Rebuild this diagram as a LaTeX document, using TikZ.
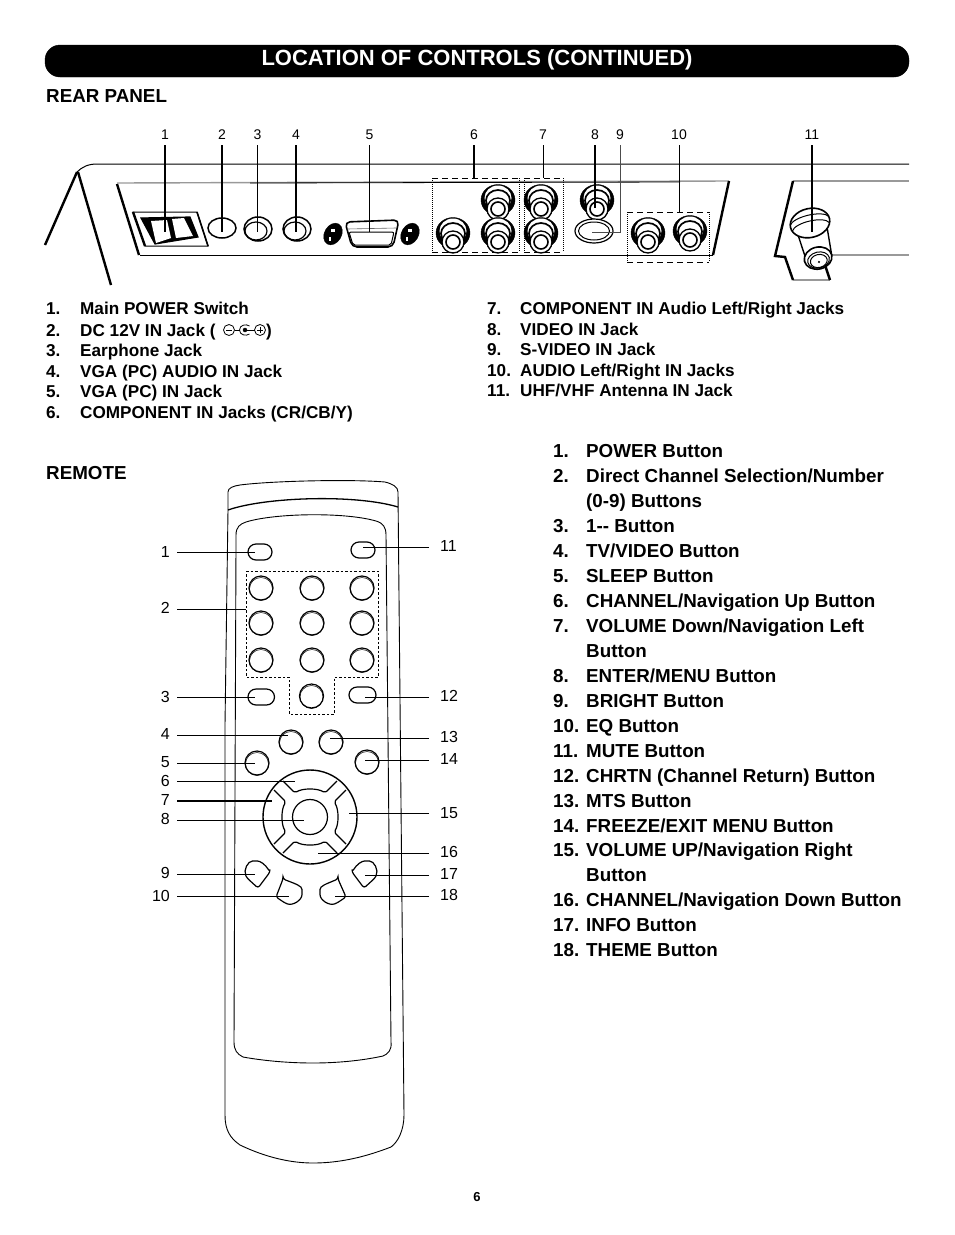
\documentclass[tikz,border=0pt]{standalone}
\usepackage{fontspec}
\setmainfont{Liberation Sans}
\usetikzlibrary{calc}
\def\rcajack(#1,#2){\begin{scope}[shift={(#1,#2)}]
	\draw[fill=black] (0,-2) ellipse (17 and 15.5);
	\draw[fill=white,draw=none] (0,-4) ellipse (13.5 and 12.5);
	\draw[line width=1.7pt] (0,-1.5) ellipse (12 and 10.5);
	\draw[fill=white,line width=1.3pt] (0,7) circle (11);
	\draw[line width=1.6pt] (0,7) circle (7);
\end{scope}}
\def\roundbtn(#1,#2){\draw[btnline] (#1,#2) circle (12);
	\draw[line width=0.5pt] (#1,#2+1) circle (11.5);}
\tikzset{
	leader/.style={line width=0.9pt},
	rearleader/.style={line width=1.3pt},
	btnline/.style={line width=1.2pt},
	bodyline/.style={line width=0.9pt},
	thickedge/.style={line width=2.4pt},
	grayedge/.style={line width=1.4pt,black!40},
	dashedge/.style={line width=0.8pt,dash pattern=on 6pt off 4pt},
	dotedge/.style={line width=1pt,dash pattern=on 1pt off 1pt},
	rearnum/.style={font=\fontsize{14}{14}\selectfont,inner sep=0pt,minimum height=20pt},
	leftnum/.style={font=\fontsize{16}{16}\selectfont,anchor=east,inner ysep=0pt,inner xsep=7pt},
	rightnum/.style={font=\fontsize{16}{16}\selectfont,anchor=west,inner ysep=0pt,inner xsep=11pt},
	reartext/.style={font=\bfseries\fontsize{17.15}{17.15}\selectfont,anchor=base west,inner sep=0pt},
	remotetext/.style={font=\bfseries\fontsize{18.8}{18.8}\selectfont,anchor=base west,inner sep=0pt},
	headtext/.style={font=\bfseries\fontsize{22}{22}\selectfont,text=white,inner sep=0pt},
}
\begin{document}
\begin{tikzpicture}[x=1pt,y=-1pt]
	%%%%% START %%%%%
	\useasboundingbox (0,0) rectangle (954,1235);
	
	\draw[fill=black,rounded corners=15pt] (45,45) rectangle (909,77);
	\node[headtext] (title) at (477,60) {LOCATION OF CONTROLS (CONTINUED)};
	\node[remotetext] (rearhead) at (46,102) {REAR PANEL};
	\node[remotetext] (remotehead) at (46,479) {REMOTE};
	\node[font=\bfseries\fontsize{13}{13}\selectfont] (pagenum) at (477,1197) {6};
	
	% cabinet outline
	\draw[line width=1pt] (909,164) -- (97,164) .. controls (88,164) and (82,167) .. (77,172);
	\draw[thickedge] (77,172) -- (45,245);
	\draw[thickedge] (78,172) -- (111,285);
	
	% jack panel
	\draw[line width=1pt] (140,255) -- (713,255);
	\draw[grayedge] (117,183) -- (729,181);
	\draw[line width=0.8pt] (250,183) -- (680,182);
	\draw[thickedge] (117,184) -- (139,255);
	\draw[thickedge] (729,181) -- (713,255);
	
	% switch
	\draw[line width=1pt] (133,212) -- (197,212) -- (208,246) -- (145,246) -- cycle;
	\draw[thickedge] (133,212) -- (145,246);
	\draw[line width=1.6pt] (197,212) -- (208,246);
	\draw[line width=1.2pt,fill=black] (141,218) -- (190,217) -- (198,237) -- (155,244) -- cycle;
	\draw[fill=white,draw=none] (151,221) -- (167,220) -- (171,238) -- (156,243) -- cycle;
	\draw[fill=white,draw=none] (172,219) -- (184,218) -- (193,236) -- (176,238) -- cycle;
	
	% round jacks
	\draw[line width=1.5pt] (222,228) ellipse (14 and 10);
	\draw[line width=1.5pt,fill=white] (258,229) ellipse (14 and 12);
	\draw[line width=1.2pt] (256,231) ellipse (11 and 9);
	\draw[line width=1.5pt,fill=white] (297,229) ellipse (14 and 12);
	\draw[line width=1.2pt] (295,231) ellipse (11 and 9);
	
	% VGA socket
	\draw[fill=black,rotate around={-30:(333,234)}] (333,234) ellipse (8.5 and 11.5);
	\draw[fill=white,draw=none] (331,229) rectangle (335,232);
	\draw[fill=white,draw=none] (329,237) rectangle (331,241);
	\draw[fill=black,rotate around={-30:(410,234)}] (410,234) ellipse (8.5 and 11.5);
	\draw[fill=white,draw=none] (408,229) rectangle (412,232);
	\draw[fill=white,draw=none] (406,237) rectangle (408,241);
	\draw[line width=1.6pt,rounded corners=5pt] (345,222) -- (399,220) -- (393,247) -- (352,247) -- cycle;
	\draw[line width=0.6pt,black!60] (347,229) -- (396,228);
	\draw[line width=1pt,rounded corners=2pt] (349,232) -- (394,232) -- (391,245) -- (353,245) -- cycle;
	
	% RCA jacks
	\rcajack(453,235)
	\rcajack(498,202)
	\rcajack(498,235)
	\rcajack(541,202)
	\rcajack(541,235)
	\rcajack(597,202)
	\rcajack(648,235)
	\rcajack(690,233)
	\draw[line width=1.2pt,fill=white] (594,231) ellipse (19 and 12);
	\draw[line width=1pt] (594,231) ellipse (15.5 and 9);
	
	% antenna section
	\draw[grayedge] (793,181) -- (909,181);
	\draw[grayedge] (830,255) -- (909,255);
	\draw[grayedge] (793,280) -- (830,280);
	\draw[thickedge] (793,181) -- (775,256) -- (785,257) -- (793,280);
	\draw[thickedge] (825,265) -- (830,280);
	\begin{scope}[rotate around={13:(810,223)}]
		\draw[line width=1.4pt,fill=white] (795,225) -- (798,258) -- (824,258) -- (826,225) -- cycle;
		\draw[line width=1.6pt,fill=white] (810,223) ellipse (20 and 14.5);
		\draw[line width=1pt] (790,221) .. controls (795,213) and (825,213) .. (830,221);
		\draw[line width=1pt] (791,227) .. controls (795,219) and (825,219) .. (829,227);
		\draw[line width=1.6pt,fill=white] (810,259) ellipse (14 and 11);
		\draw[line width=1pt] (810,261) ellipse (11 and 8);
		\draw[line width=1pt] (810,262) ellipse (8.5 and 6.5);
		\draw[fill=black] (810,263) circle (0.8);
	\end{scope}
	
	% group boxes
	\draw[dashedge] (432,178) -- (519,178);
	\draw[dashedge] (432,252) -- (519,252);
	\draw[dotedge] (432,178) -- (432,252);
	\draw[dotedge] (519,178) -- (519,252);
	\draw[dashedge] (524,178) -- (563,178);
	\draw[dashedge] (524,252) -- (563,252);
	\draw[dotedge] (524,178) -- (524,252);
	\draw[dotedge] (563,178) -- (563,252);
	\draw[dashedge] (627,212) -- (709,212);
	\draw[dashedge] (627,262) -- (709,262);
	\draw[dotedge] (627,212) -- (627,262);
	\draw[dotedge] (709,212) -- (709,262);
	
	% rear callouts
	\node[rearnum] (rearA) at (165,135) {1};
	\node[rearnum] (rearB) at (222,135) {2};
	\node[rearnum] (rearC) at (257.5,135) {3};
	\node[rearnum] (rearD) at (296,135) {4};
	\node[rearnum] (rearE) at (369.5,135) {5};
	\node[rearnum] (rearF) at (474,135) {6};
	\node[rearnum] (rearG) at (543,135) {7};
	\node[rearnum] (rearH) at (595,135) {8};
	\node[rearnum] (rearI) at (620,135) {9};
	\node[rearnum] (rearJ) at (679,135) {10};
	\node[rearnum] (rearK) at (812,135) {11};
	\coordinate (endA) at (165,232);
	\coordinate (endB) at (222,232);
	\coordinate (endC) at (257.5,232);
	\coordinate (endD) at (296,232);
	\coordinate (endE) at (369.5,232);
	\coordinate (endF) at (474,178);
	\coordinate (endG) at (543,178);
	\coordinate (endH) at (595,208);
	\coordinate (bendI) at (620,232);
	\coordinate (endI) at (592,232);
	\coordinate (endJ) at (679,212);
	\coordinate (endK) at (812,232);
	\draw[rearleader] (rearA) -- (endA);
	\draw[rearleader] (rearB) -- (endB);
	\draw[rearleader] (rearC) -- (endC);
	\draw[rearleader] (rearD) -- (endD);
	\draw[rearleader] (rearE) -- (endE);
	\draw[rearleader] (rearF) -- (endF);
	\draw[leader] (rearG) -- (endG);
	\draw[rearleader] (rearH) -- (endH);
	\draw[leader,black!70] (rearI) -- (bendI) -- (endI);
	\draw[leader] (rearJ) -- (endJ);
	\draw[rearleader] (rearK) -- (endK);
	
	% rear lists
	\node[reartext] (ln1) at (46,314.5) {1.};
	\node[reartext] (lt1) at (80,314.5) {Main POWER Switch};
	\node[reartext] (ln2) at (46,336) {2.};
	\node[reartext] (lt2) at (80,336) {DC 12V IN Jack (};
	\node[reartext] (lc2) at (266,336) {)};
	\draw[line width=0.8pt] (229,330) circle (5.5);
	\draw[line width=0.8pt] (226,330) -- (232,330);
	\draw[line width=0.8pt] (249.5,326) .. controls (246,323.5) and (239.5,325) .. (239.5,330) .. controls (239.5,335) and (246,336.5) .. (249.5,334);
	\draw[fill=black] (245,330) circle (2);
	\draw[line width=0.8pt] (234.5,330) -- (239.5,330);
	\draw[line width=0.8pt] (245,330) -- (254.5,330);
	\draw[line width=0.8pt] (260,330) circle (5.5);
	\draw[line width=0.8pt] (257,330) -- (263,330);
	\draw[line width=0.8pt] (260,327) -- (260,333);
	\node[reartext] (ln3) at (46,356.5) {3.};
	\node[reartext] (lt3) at (80,356.5) {Earphone Jack};
	\node[reartext] (ln4) at (46,377.5) {4.};
	\node[reartext] (lt4) at (80,377.5) {VGA (PC) AUDIO IN Jack};
	\node[reartext] (ln5) at (46,397.5) {5.};
	\node[reartext] (lt5) at (80,397.5) {VGA (PC) IN Jack};
	\node[reartext] (ln6) at (46,418) {6.};
	\node[reartext] (lt6) at (80,418) {COMPONENT IN Jacks (CR/CB/Y)};
	
	\node[reartext] (ln7) at (487,314) {7.};
	\node[reartext] (lt7) at (520,314) {COMPONENT IN Audio Left/Right Jacks};
	\node[reartext] (ln8) at (487,335) {8.};
	\node[reartext] (lt8) at (520,335) {VIDEO IN Jack};
	\node[reartext] (ln9) at (487,355) {9.};
	\node[reartext] (lt9) at (520,355) {S-VIDEO IN Jack};
	\node[reartext] (ln10) at (487,376) {10.};
	\node[reartext] (lt10) at (520,376) {AUDIO Left/Right IN Jacks};
	\node[reartext] (ln11) at (487,396.5) {11.};
	\node[reartext] (lt11) at (520,396.5) {UHF/VHF Antenna IN Jack};
	
	% remote body
	\draw[bodyline] (228,510) -- (228,492) .. controls (228,488) and (233,486) .. (240,485) .. controls (270,481) and (350,479) .. (385,482) .. controls (393,484) and (398,487) .. (398,492) -- (404,1115) .. controls (404,1130) and (398,1142) .. (391,1147) .. controls (365,1157) and (340,1163) .. (313,1163) .. controls (290,1163) and (265,1157) .. (240,1145) .. controls (230,1138) and (225,1130) .. (225,1115) -- (225,725) -- cycle;
	\draw[line width=1.3pt] (228,510) .. controls (265,497) and (355,494) .. (398,507);
	\draw[bodyline] (236,545) -- (236,535) .. controls (236,527) and (240,524) .. (246,522) .. controls (275,513) and (345,512) .. (376,521) .. controls (383,523) and (386,527) .. (386,535) -- (391,1042) .. controls (392,1050) and (388,1054) .. (383,1056) .. controls (360,1061) and (335,1063) .. (313,1063) .. controls (290,1063) and (265,1061) .. (243,1057) .. controls (237,1054) and (234,1050) .. (234,1042) -- cycle;
	
	% keypad
	\draw[btnline,rounded corners=8pt] (248,544) rectangle (272,560);
	\draw[btnline,rounded corners=8pt] (351,542) rectangle (375,558);
	\draw[btnline,rounded corners=8pt] (248,689) rectangle (274.5,705);
	\draw[btnline,rounded corners=8pt] (349,687) rectangle (376,703);
	\roundbtn(261,588)
	\roundbtn(312,588)
	\roundbtn(362,588)
	\roundbtn(261,623)
	\roundbtn(312,623)
	\roundbtn(362,623)
	\roundbtn(261,660)
	\roundbtn(312,660)
	\roundbtn(362,660)
	\roundbtn(311.5,696)
	\draw[line width=0.8pt,dash pattern=on 2.5pt off 2pt] (246,571) -- (378,571) -- (378,677) -- (334,677) -- (334,714) -- (289,714) -- (289,677) -- (246,677) -- cycle;
	\roundbtn(291,742)
	\roundbtn(331,742)
	\roundbtn(257,763)
	\roundbtn(367,762)
	
	% navigation ring
	\draw[line width=1.4pt] (310,817) circle (47);
	\draw[line width=1.2pt] (310,817) circle (17.5);
	\begin{scope}[shift={(310,817)}]
		\draw[btnline,rounded corners=2pt] (-27,-36) -- (-15,-24) .. controls (-8,-29) and (8,-29) .. (15,-24) -- (27,-36);
		\draw[btnline,rounded corners=2pt,rotate=90] (-27,-36) -- (-15,-24) .. controls (-8,-29) and (8,-29) .. (15,-24) -- (27,-36);
		\draw[btnline,rounded corners=2pt,rotate=180] (-27,-36) -- (-15,-24) .. controls (-8,-29) and (8,-29) .. (15,-24) -- (27,-36);
		\draw[btnline,rounded corners=2pt,rotate=270] (-27,-36) -- (-15,-24) .. controls (-8,-29) and (8,-29) .. (15,-24) -- (27,-36);
	\end{scope}
	
	% corner keys
	\draw[btnline,rounded corners=2.5pt] (270,872) -- (258,888) -- (247,878) .. controls (243,870) and (248,861) .. (255,861) .. controls (260,861) and (265,864) .. cycle;
	\draw[btnline,rounded corners=2.5pt] (352,872) -- (364,888) -- (375,878) .. controls (379,870) and (374,861) .. (367,861) .. controls (362,861) and (357,864) .. cycle;
	\draw[btnline,rounded corners=2.5pt] (283,879) -- (276,897) -- (285,903) .. controls (293,906) and (302,900) .. (302,892) .. controls (302,886) and (296,884) .. cycle;
	\draw[btnline,rounded corners=2.5pt] (338,879) -- (346,897) -- (337,903) .. controls (329,906) and (320,900) .. (320,892) .. controls (320,886) and (326,884) .. cycle;
	
	% remote callouts
	\node[leftnum] (remA) at (177,552) {1};
	\node[leftnum] (remB) at (177,608) {2};
	\node[leftnum] (remC) at (177,697) {3};
	\node[leftnum] (remD) at (177,734) {4};
	\node[leftnum] (remE) at (177,762) {5};
	\node[leftnum] (remF) at (177,781) {6};
	\node[leftnum] (remG) at (177,800) {7};
	\node[leftnum] (remH) at (177,819) {8};
	\node[leftnum] (remI) at (177,873) {9};
	\node[leftnum] (remJ) at (177,896) {10};
	\node[rightnum] (remK) at (429,546) {11};
	\node[rightnum] (remL) at (429,696) {12};
	\node[rightnum] (remM) at (429,737) {13};
	\node[rightnum] (remN) at (429,759) {14};
	\node[rightnum] (remO) at (429,813) {15};
	\node[rightnum] (remP) at (429,852) {16};
	\node[rightnum] (remQ) at (429,874) {17};
	\node[rightnum] (remR) at (429,895) {18};
	\coordinate (tipA) at (255,552);
	\coordinate (tipB) at (246,609);
	\coordinate (tipC) at (255,697);
	\coordinate (tipD) at (288,735);
	\coordinate (tipE) at (255,763);
	\coordinate (tipF) at (295,781);
	\coordinate (tipG) at (272,801);
	\coordinate (tipH) at (304,820);
	\coordinate (tipI) at (255,874);
	\coordinate (tipJ) at (289,896);
	\coordinate (tipK) at (363,547);
	\coordinate (tipL) at (365,697);
	\coordinate (tipM) at (330,738);
	\coordinate (tipN) at (365,760);
	\coordinate (tipO) at (349,813);
	\coordinate (tipP) at (318,853);
	\coordinate (tipQ) at (365,875);
	\coordinate (tipR) at (335,896);
	\draw[leader] (remA.east |- tipA) -- (tipA);
	\draw[leader] (remB.east |- tipB) -- (tipB);
	\draw[leader] (remC.east |- tipC) -- (tipC);
	\draw[leader] (remD.east |- tipD) -- (tipD);
	\draw[leader] (remE.east |- tipE) -- (tipE);
	\draw[leader] (remF.east |- tipF) -- (tipF);
	\draw[rearleader] (remG.east |- tipG) -- (tipG);
	\draw[leader] (remH.east |- tipH) -- (tipH);
	\draw[leader] (remI.east |- tipI) -- (tipI);
	\draw[leader] (remJ.east |- tipJ) -- (tipJ);
	\draw[leader] (remK.west |- tipK) -- (tipK);
	\draw[leader] (remL.west |- tipL) -- (tipL);
	\draw[leader] (remM.west |- tipM) -- (tipM);
	\draw[leader] (remN.west |- tipN) -- (tipN);
	\draw[leader] (remO.west |- tipO) -- (tipO);
	\draw[leader] (remP.west |- tipP) -- (tipP);
	\draw[leader] (remQ.west |- tipQ) -- (tipQ);
	\draw[leader] (remR.west |- tipR) -- (tipR);
	
	% remote list
	\node[remotetext] (rn1) at (553,457.5) {1.};
	\node[remotetext] (rt1) at (586,457.5) {POWER Button};
	\node[remotetext] (rn2) at (553,482.5) {2.};
	\node[remotetext] (rt2) at (586,482.5) {Direct Channel Selection/Number};
	\node[remotetext] (rt2b) at (586,507.5) {(0-9) Buttons};
	\node[remotetext] (rn3) at (553,532.5) {3.};
	\node[remotetext] (rt3) at (586,532.5) {1-{}- Button};
	\node[remotetext] (rn4) at (553,557.5) {4.};
	\node[remotetext] (rt4) at (586,557.5) {TV/VIDEO Button};
	\node[remotetext] (rn5) at (553,582.5) {5.};
	\node[remotetext] (rt5) at (586,582.5) {SLEEP Button};
	\node[remotetext] (rn6) at (553,607.5) {6.};
	\node[remotetext] (rt6) at (586,607.5) {CHANNEL/Navigation Up Button};
	\node[remotetext] (rn7) at (553,632.5) {7.};
	\node[remotetext] (rt7) at (586,632.5) {VOLUME Down/Navigation Left};
	\node[remotetext] (rt7b) at (586,657.5) {Button};
	\node[remotetext] (rn8) at (553,682.5) {8.};
	\node[remotetext] (rt8) at (586,682.5) {ENTER/MENU Button};
	\node[remotetext] (rn9) at (553,707.5) {9.};
	\node[remotetext] (rt9) at (586,707.5) {BRIGHT Button};
	\node[remotetext] (rn10) at (553,732.5) {10.};
	\node[remotetext] (rt10) at (586,732.5) {EQ Button};
	\node[remotetext] (rn11) at (553,757.5) {11.};
	\node[remotetext] (rt11) at (586,757.5) {MUTE Button};
	\node[remotetext] (rn12) at (553,782.5) {12.};
	\node[remotetext] (rt12) at (586,782.5) {CHRTN (Channel Return) Button};
	\node[remotetext] (rn13) at (553,807.5) {13.};
	\node[remotetext] (rt13) at (586,807.5) {MTS Button};
	\node[remotetext] (rn14) at (553,832.5) {14.};
	\node[remotetext] (rt14) at (586,832.5) {FREEZE/EXIT MENU Button};
	\node[remotetext] (rn15) at (553,856.5) {15.};
	\node[remotetext] (rt15) at (586,856.5) {VOLUME UP/Navigation Right};
	\node[remotetext] (rt15b) at (586,881.5) {Button};
	\node[remotetext] (rn16) at (553,906.5) {16.};
	\node[remotetext] (rt16) at (586,906.5) {CHANNEL/Navigation Down Button};
	\node[remotetext] (rn17) at (553,931.5) {17.};
	\node[remotetext] (rt17) at (586,931.5) {INFO Button};
	\node[remotetext] (rn18) at (553,956.5) {18.};
	\node[remotetext] (rt18) at (586,956.5) {THEME Button};
	%%%%% END %%%%%
\end{tikzpicture}
\end{document}
